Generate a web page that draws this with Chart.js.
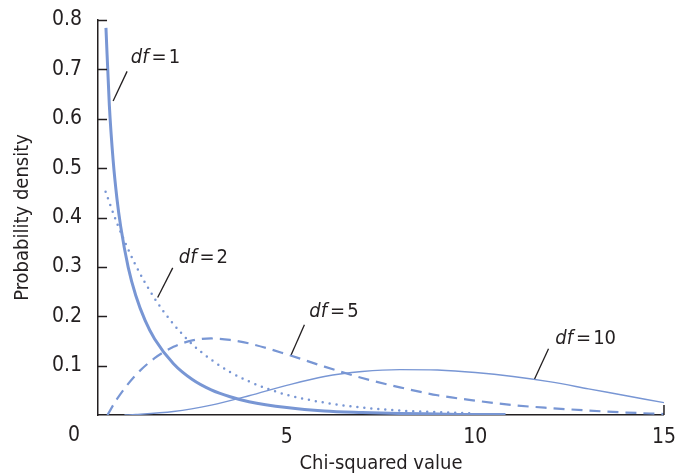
<!DOCTYPE html>
<html>
<head>
<meta charset="utf-8">
<script src="https://cdn.jsdelivr.net/npm/chart.js@4.4.1/dist/chart.umd.min.js"></script>
<style>
  body { margin: 0; background: #fff; }
  #wrap { width: 688px; height: 476px; }
</style>
</head>
<body>
<div id="wrap"><canvas id="chi-squared"></canvas></div>
<script>
const FONT = "'Liberation Sans Narrow', 'DejaVu Sans Condensed', 'Roboto', sans-serif"
const BLUE = '#7896d4'
const INK = '#231f20'

// Values
const xDf1 = [0.21, 0.3, 0.4, 0.5, 0.6, 0.8, 1, 1.25, 1.5, 2, 2.5, 3, 3.5, 4, 5, 6, 7, 8, 9, 10, 10.8]
const yDf1 = [0.784, 0.627, 0.516, 0.439, 0.382, 0.299, 0.242, 0.191, 0.154, 0.104, 0.072, 0.051, 0.037, 0.027, 0.015, 0.008, 0.005, 0.003, 0.002, 0.001, 0.001]

const xDf2 = [0.2, 0.5, 1, 1.5, 2, 2.5, 3, 3.5, 4, 4.5, 5, 6, 7, 8, 9, 10]
const yDf2 = [0.452, 0.389, 0.303, 0.236, 0.184, 0.143, 0.112, 0.087, 0.068, 0.053, 0.041, 0.025, 0.015, 0.009, 0.006, 0.003]

const xDf5 = [0.25, 0.5, 1, 1.5, 2, 2.5, 3, 3.5, 4, 5, 6, 7, 8, 9, 10, 11, 12, 13, 14, 15]
const yDf5 = [0, 0.032, 0.081, 0.115, 0.138, 0.151, 0.155, 0.152, 0.145, 0.123, 0.098, 0.075, 0.056, 0.040, 0.029, 0.020, 0.014, 0.009, 0.005, 0.002]

const xDf10 = [0.7, 1, 2, 3, 4, 5, 6, 7, 8, 9, 10, 11, 12, 13, 14, 15]
const yDf10 = [0, 0.001, 0.007, 0.02, 0.039, 0.060, 0.078, 0.088, 0.092, 0.091, 0.086, 0.078, 0.067, 0.053, 0.039, 0.025]

const seriesNames = ['df = 1', 'df = 2', 'df = 5', 'df = 10']

// label text anchor and leader line, in data units
const callouts = [
  { df: '1', tx: 0.87, ty: 0.713, from: [0.77, 0.696], to: [0.40, 0.636] },
  { df: '2', tx: 2.14, ty: 0.307, from: [1.98, 0.298], to: [1.58, 0.238] },
  { df: '5', tx: 5.60, ty: 0.199, from: [5.47, 0.183], to: [5.12, 0.122] },
  { df: '10', tx: 12.12, ty: 0.144, from: [11.94, 0.134], to: [11.57, 0.073] },
]

const pairs = (xs, ys) => xs.map((x, i) => ({ x: x, y: ys[i] }))

const extras = {
  id: 'extras',
  afterDraw(chart) {
    const { ctx, scales: { x, y } } = chart
    ctx.save()
    ctx.strokeStyle = INK
    ctx.lineWidth = 1.5

    // tick marks point inward on the y axis
    y.ticks.forEach(t => {
      if (t.value === 0) return
      const py = Math.round(y.getPixelForValue(t.value)) + 0.5
      ctx.beginPath()
      ctx.moveTo(x.left, py)
      ctx.lineTo(x.left + 9, py)
      ctx.stroke()
    })
    // closing tick at the end of the x axis
    const ex = x.getPixelForValue(15)
    ctx.beginPath()
    ctx.moveTo(ex, y.bottom)
    ctx.lineTo(ex, y.bottom - 10)
    ctx.stroke()

    // shared origin label
    ctx.fillStyle = INK
    ctx.font = '21px ' + FONT
    ctx.textAlign = 'center'
    ctx.textBaseline = 'middle'
    ctx.fillText('0', x.left - 24, y.bottom + 21)

    // curve labels
    ctx.lineWidth = 1.3
    ctx.textAlign = 'left'
    ctx.textBaseline = 'alphabetic'
    callouts.forEach(c => {
      ctx.beginPath()
      ctx.moveTo(x.getPixelForValue(c.from[0]), y.getPixelForValue(c.from[1]))
      ctx.lineTo(x.getPixelForValue(c.to[0]), y.getPixelForValue(c.to[1]))
      ctx.stroke()
      let px = x.getPixelForValue(c.tx)
      const py = y.getPixelForValue(c.ty)
      ctx.font = 'italic 20px ' + FONT
      ctx.fillText('df', px, py)
      px += ctx.measureText('df').width + 3
      ctx.font = '20px ' + FONT
      ctx.fillText('=', px, py)
      px += ctx.measureText('=').width + 2
      ctx.fillText(c.df, px, py)
    })
    ctx.restore()
  },
}

const lineSet = (label, xs, ys, width, dash, cap) => ({
  label: label,
  data: pairs(xs, ys),
  showLine: true,
  borderColor: BLUE,
  backgroundColor: BLUE,
  borderWidth: width,
  borderDash: dash,
  borderCapStyle: cap,
  pointRadius: 0,
  cubicInterpolationMode: 'monotone',
  fill: false,
})

new Chart(document.getElementById('chi-squared').getContext('2d'), {
  type: 'scatter',
  data: {
    datasets: [
      lineSet(seriesNames[0], xDf1, yDf1, 3, [], 'butt'),
      lineSet(seriesNames[1], xDf2, yDf2, 2.5, [0, 7], 'round'),
      lineSet(seriesNames[2], xDf5, yDf5, 2.2, [11, 7], 'butt'),
      lineSet(seriesNames[3], xDf10, yDf10, 1.4, [], 'butt'),
    ],
  },
  options: {
    responsive: true,
    maintainAspectRatio: false,
    animation: false,
    layout: { padding: { top: 20, right: 23, left: 8, bottom: 2 } },
    plugins: {
      legend: { display: false },
      tooltip: { enabled: false },
    },
    scales: {
      x: {
        type: 'linear',
        min: 0,
        max: 15,
        grid: { drawOnChartArea: false, drawTicks: false },
        border: { color: INK, width: 1.5 },
        ticks: {
          stepSize: 5,
          padding: 12,
          color: INK,
          font: { family: FONT, size: 21, lineHeight: 1 },
          callback: v => (v === 0 ? '' : v),
        },
        title: {
          display: true,
          text: 'Chi-squared value',
          color: INK,
          font: { family: FONT, size: 20, lineHeight: 1 },
          padding: { top: -6, bottom: 0 },
        },
      },
      y: {
        min: 0,
        max: 0.8,
        grid: { drawOnChartArea: false, drawTicks: false },
        border: { color: INK, width: 1.5 },
        afterFit: scale => {
          scale.paddingTop = 0
          scale.paddingBottom = 0
        },
        ticks: {
          stepSize: 0.1,
          padding: 16,
          color: INK,
          font: { family: FONT, size: 21 },
          callback: v => (v === 0 ? '' : v.toFixed(1)),
        },
        title: {
          display: true,
          text: 'Probability density',
          color: INK,
          font: { family: FONT, size: 20, lineHeight: 1 },
          padding: { top: 5, bottom: 3 },
        },
      },
    },
  },
  plugins: [extras],
})
</script>
</body>
</html>
